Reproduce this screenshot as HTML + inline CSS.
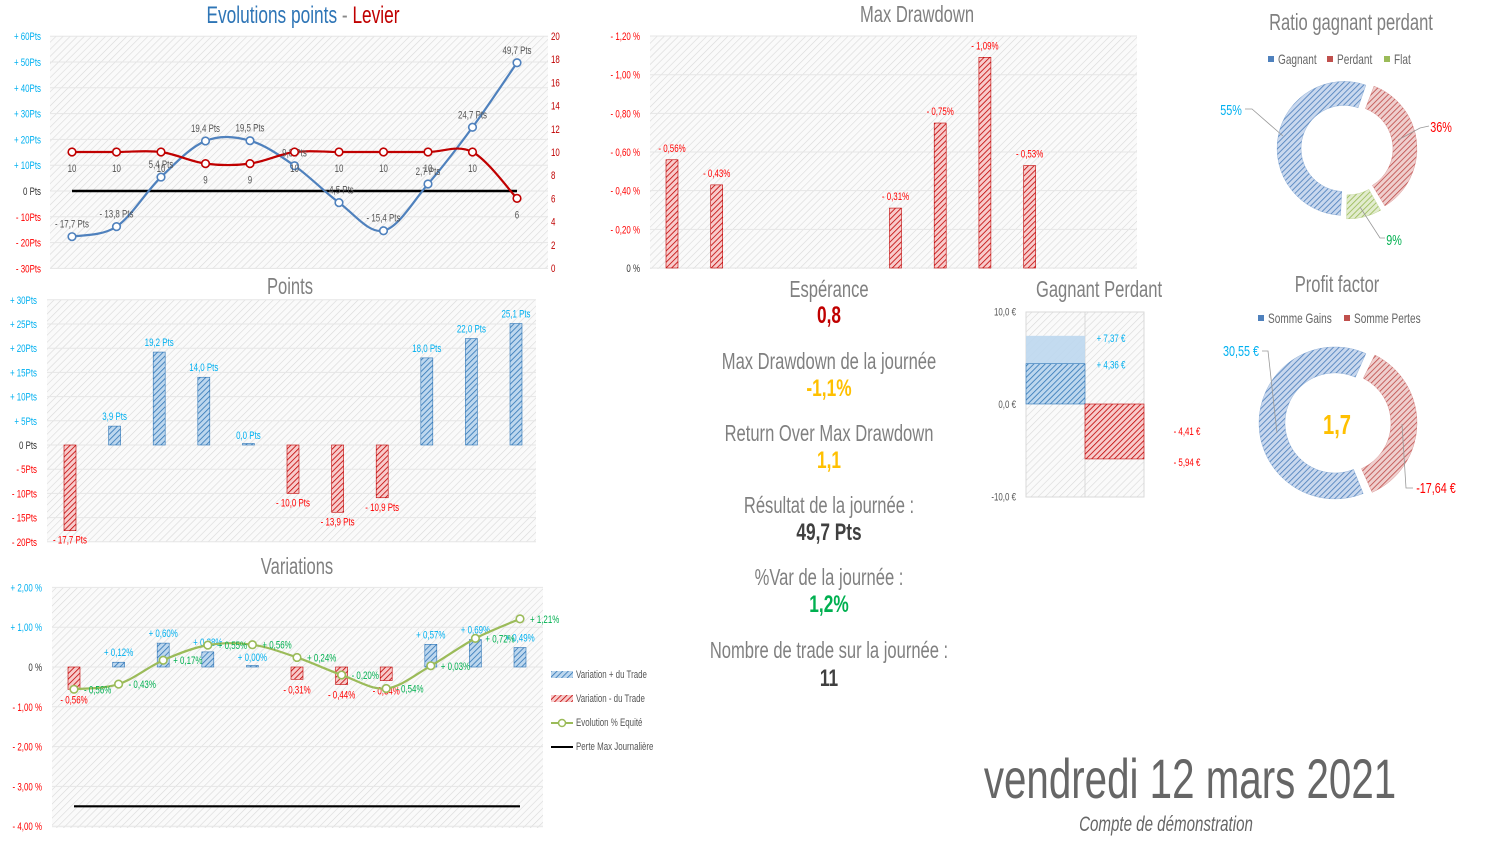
<!DOCTYPE html>
<html><head><meta charset="utf-8">
<style>
html,body{margin:0;padding:0;background:#fff;}
svg{display:block;font-family:"Liberation Sans Narrow","Liberation Sans",sans-serif;}
</style></head>
<body>
<svg id="s" width="1493" height="853" viewBox="0 0 1493 853">
<defs>
<pattern id="bg" width="5" height="5" patternUnits="userSpaceOnUse" patternTransform="rotate(45)"><rect width="5" height="5" fill="#fafafa"/><line x1="0" y1="0" x2="0" y2="5" stroke="#d9d9d9" stroke-width="1.2"/></pattern>
<pattern id="hb" width="4" height="4" patternUnits="userSpaceOnUse" patternTransform="rotate(45)"><rect width="4" height="4" fill="#bdd7ee"/><line x1="0" y1="0" x2="0" y2="4" stroke="#2e75b6" stroke-width="1.6"/></pattern>
<pattern id="hr" width="4" height="4" patternUnits="userSpaceOnUse" patternTransform="rotate(45)"><rect width="4" height="4" fill="#f8cbcb"/><line x1="0" y1="0" x2="0" y2="4" stroke="#c00000" stroke-width="1.6"/></pattern>
<pattern id="hb2" width="4" height="4" patternUnits="userSpaceOnUse" patternTransform="rotate(45)"><rect width="4" height="4" fill="#c9d8ee"/><line x1="0" y1="0" x2="0" y2="4" stroke="#4f81bd" stroke-width="1.7"/></pattern>
<pattern id="hr2" width="4" height="4" patternUnits="userSpaceOnUse" patternTransform="rotate(45)"><rect width="4" height="4" fill="#efcfce"/><line x1="0" y1="0" x2="0" y2="4" stroke="#c0504d" stroke-width="1.7"/></pattern>
<pattern id="hg2" width="4" height="4" patternUnits="userSpaceOnUse" patternTransform="rotate(45)"><rect width="4" height="4" fill="#e2ecce"/><line x1="0" y1="0" x2="0" y2="4" stroke="#9bbb59" stroke-width="1.7"/></pattern>
</defs>
<g id="root"></g>
</svg>
<script>
// ---- data ----
const evoCats = ["T1","T2","T3","T4","T5","T6","T7","T8","T9","T10","T11"];
const evoPoints = [-17.7,-13.8,5.4,19.4,19.5,9.8,-4.5,-15.4,2.7,24.7,49.7];
const evoLevier = [10,10,10,9,9,10,10,10,10,10,6];
const evoLeftTicks = [60,50,40,30,20,10,0,-10,-20,-30];
const evoRightTicks = [20,18,16,14,12,10,8,6,4,2,0];
const ptsValues = [-17.7,3.9,19.2,14.0,0.0,-10.0,-13.9,-10.9,18.0,22.0,25.1];
const ptsTicks = [30,25,20,15,10,5,0,-5,-10,-15,-20];
const varTrade = [-0.56,0.12,0.60,0.38,0.00,-0.31,-0.44,-0.34,0.57,0.69,0.49];
const varEquity = [-0.56,-0.43,0.17,0.55,0.56,0.24,-0.20,-0.54,0.03,0.72,1.21];
const varPerteMax = -3.5;
const varTicks = [2,1,0,-1,-2,-3,-4];
const ddValues = [0.56,0.43,0,0,0,0.31,0.75,1.09,0.53,0,0];
const ddTicks = [1.2,1.0,0.8,0.6,0.4,0.2,0];
const gpGagnant = [7.37,4.36];
const gpPerdant = [-4.41,-5.94];
const gpTicks = [10,0,-10];
const ratioLabels = ["Gagnant","Perdant","Flat"];
const ratioValues = [55,36,9];
const pfLabels = ["Somme Gains","Somme Pertes"];
const pfValues = [30.55,-17.64];

const NS="http://www.w3.org/2000/svg";
const root=document.getElementById('root');
const SX=0.72;
function mk(tag,at,parent){const e=document.createElementNS(NS,tag);for(const k in at)e.setAttribute(k,at[k]);(parent||root).appendChild(e);return e;}
function tx(x,y,s,size,fill,anchor,extra,parent){const e=mk('text',Object.assign({x:0,y:0,transform:'translate('+x+','+y+') scale('+SX+',1)','font-size':size,fill:fill,'text-anchor':anchor||'middle'},extra||{}),parent);e.textContent=s;return e;}
const fr=v=>Math.abs(v).toFixed(1).replace('.',',');
const fr2=v=>Math.abs(v).toFixed(2).replace('.',',');
function smooth(pts){let d='M'+pts[0][0]+','+pts[0][1];for(let i=0;i<pts.length-1;i++){const p0=pts[i-1]||pts[i],p1=pts[i],p2=pts[i+1],p3=pts[i+2]||p2;const c1=[p1[0]+(p2[0]-p0[0])/6,p1[1]+(p2[1]-p0[1])/6],c2=[p2[0]-(p3[0]-p1[0])/6,p2[1]-(p3[1]-p1[1])/6];d+=' C'+c1+' '+c2+' '+p2;}return d;}
function plotBg(x,y,w,h,name){const r=mk('rect',{x:x,y:y,width:w,height:h,fill:'url(#bg)'});}
function grid(x1,x2,y){const l=mk('line',{x1:x1,x2:x2,y1:y,y2:y,stroke:'#e6e6e6','stroke-width':1});}

// ===== Chart 1 =====
{
const x=i=>72+i*44.5, yL=v=>191-v*2.58, yR=v=>268-v*11.6;
plotBg(50,36,498,233,'evolution-plot-area');
let t=mk('text',{x:0,y:0,transform:'translate(303,23) scale('+SX+',1)','font-size':24,'text-anchor':'middle'});

t.innerHTML='<tspan fill="#2e75b6">Evolutions points</tspan><tspan fill="#888"> - </tspan><tspan fill="#c00000">Levier</tspan>';
evoLeftTicks.forEach(v=>{grid(50,548,yL(v));const e=tx(41,yL(v)+4,v===0?'0 Pts':(v>0?'+ ':'- ')+Math.abs(v)+'Pts',11,v>0?'#00b0f0':(v<0?'#ff0000':'#333'),'end');});
evoRightTicks.forEach(v=>{const e=tx(551,yR(v)+4,String(v),11,'#c00000','start');});
const zl=mk('line',{x1:x(0),x2:x(10),y1:yL(0),y2:yL(0),stroke:'#000','stroke-width':2.5});

const bl=mk('path',{d:smooth(evoPoints.map((v,i)=>[x(i),yL(v)])),fill:'none',stroke:'#4f81bd','stroke-width':2.2});

const rl=mk('path',{d:smooth(evoLevier.map((v,i)=>[x(i),yR(v)])),fill:'none',stroke:'#c00000','stroke-width':2.2});

evoPoints.forEach((v,i)=>{
 const c=mk('circle',{cx:x(i),cy:yL(v),r:3.8,fill:'#fff',stroke:'#4f81bd','stroke-width':1.6});
 
 const e=tx(x(i),yL(v)-9,(v<0?'- ':'')+fr(v)+' Pts',11,'#555');
 
});
evoLevier.forEach((v,i)=>{
 const c=mk('circle',{cx:x(i),cy:yR(v),r:3.8,fill:'#fff',stroke:'#c00000','stroke-width':1.6});
 
 const e=tx(x(i),yR(v)+20,String(v),11,'#555');
 
});
}

// ===== Chart 2: Points =====
{
const x=i=>70+i*44.6, y=v=>445-v*4.84;
plotBg(47,300,489,242,'points-plot-area');
const t=tx(290,294,'Points',23,'#808080');
ptsTicks.forEach(v=>{grid(47,536,y(v));const e=tx(37,y(v)+4,v===0?'0 Pts':(v>0?'+ ':'- ')+Math.abs(v)+'Pts',11,v>0?'#00b0f0':(v<0?'#ff0000':'#333'),'end');});
ptsValues.forEach((v,i)=>{
 const h=Math.max(Math.abs(y(v)-y(0)),1.5);
 const b=mk('rect',{x:x(i)-6,y:v>=0?y(0)-h:y(0),width:12,height:h,fill:v>=0?'url(#hb)':'url(#hr)',stroke:v>=0?'#2e75b6':'#c00000','stroke-width':0.6});
 
 const e=tx(x(i),v>=0?y(v)-6:y(v)+13,(v<0?'- ':'')+fr(v)+' Pts',11,v>=0?'#00b0f0':'#ff0000');
 
});
}

// ===== Chart 3: Variations =====
{
const x=i=>74+i*44.6, y=v=>667-v*39.8;
plotBg(52,588,491,240,'variations-plot-area');
const t=tx(297,574,'Variations',23,'#808080');
varTicks.forEach(v=>{grid(52,543,y(v));const e=tx(42,y(v)+4,v===0?'0 %':(v>0?'+ ':'- ')+Math.abs(v).toFixed(2).replace('.',',')+' %',11,v>0?'#00b0f0':(v<0?'#ff0000':'#333'),'end');});
varTrade.forEach((v,i)=>{
 const h=Math.max(Math.abs(y(v)-y(0)),1.5);
 const b=mk('rect',{x:x(i)-6,y:v>=0?y(0)-h:y(0),width:12,height:h,fill:v>=0?'url(#hb)':'url(#hr)',stroke:v>=0?'#2e75b6':'#c00000','stroke-width':0.6});
 
 const e=tx(x(i),v>=0?y(v)-6:y(v)+14,(v<0?'- ':'+ ')+fr2(v)+'%',11,v>=0?'#00b0f0':'#ff0000');
 
});
const pl=mk('line',{x1:x(0),x2:x(10),y1:y(varPerteMax),y2:y(varPerteMax),stroke:'#000','stroke-width':2.2});

const el=mk('path',{d:smooth(varEquity.map((v,i)=>[x(i),y(v)])),fill:'none',stroke:'#9bbb59','stroke-width':2.2});

varEquity.forEach((v,i)=>{
 const c=mk('circle',{cx:x(i),cy:y(v),r:3.8,fill:'#fff',stroke:'#9bbb59','stroke-width':1.6});
 
 const e=tx(x(i)+10,y(v)+4,(v<0?'- ':'+ ')+fr2(v)+'%',11,'#00b050','start');
 
});
const leg=[['Variation + du Trade','bar','url(#hb)'],['Variation - du Trade','bar','url(#hr)'],['Evolution % Equité','line','#9bbb59'],['Perte Max Journalière','line','#000']];
leg.forEach((l,i)=>{
 const yy=675+i*24;
 const g=mk('g',{});
 if(l[1]==='bar')mk('rect',{x:551,y:yy-4,width:22,height:7,fill:l[2]},g);
 else{mk('line',{x1:551,x2:573,y1:yy,y2:yy,stroke:l[2],'stroke-width':2},g);if(i===2)mk('circle',{cx:562,cy:yy,r:3.5,fill:'#fff',stroke:l[2],'stroke-width':1.5},g);}
 tx(576,yy+3,l[0],11,'#555','start',{},g);
});
}

// ===== Max Drawdown =====
{
const x=i=>672+i*44.7, y=v=>268-v*193.3;
plotBg(650,36,487,233,'drawdown-plot-area');
const t=tx(917,22,'Max Drawdown',23,'#808080');
ddTicks.forEach(v=>{grid(650,1137,y(v));const e=tx(640,y(v)+4,v===0?'0 %':'- '+v.toFixed(2).replace('.',',')+' %',11,v===0?'#333':'#ff0000','end');});
ddValues.forEach((v,i)=>{
 if(v<=0)return;
 const b=mk('rect',{x:x(i)-6,y:y(v),width:12,height:y(0)-y(v),fill:'url(#hr)',stroke:'#c00000','stroke-width':0.6});
 
 const e=tx(x(i),y(v)-8,'- '+fr2(v)+'%',11,'#ff0000');
 
});
}

// ===== KPI stats =====
{
const stats=[['Espérance','0,8','#c00000',297,323],['Max Drawdown de la journée','-1,1%','#ffc000',369,396],['Return Over Max Drawdown','1,1','#ffc000',441,468],['Résultat de la journée :','49,7 Pts','#404040',513,540],['%Var de la journée :','1,2%','#00b050',585,612],['Nombre de trade sur la journée :','11','#404040',658,686]];
stats.forEach(s=>{
 const a=tx(829,s[3],s[0],23,'#808080');
 const b=tx(829,s[4],s[1],24,s[2],'middle',{'font-weight':'bold'});
});
}

// ===== Gagnant Perdant =====
{
const y=v=>404-v*9.25;
plotBg(1026,312,118,185,'gagnant-perdant-plot-area');
const fr0=mk('rect',{x:1026,y:312,width:118,height:185,fill:'none',stroke:'#d9d9d9'});

const dv=mk('line',{x1:1085,x2:1085,y1:312,y2:497,stroke:'#d9d9d9'});
const t=tx(1099,297,'Gagnant Perdant',23,'#808080');
gpTicks.forEach(v=>{const e=tx(1016,y(v)+4,v.toFixed(1).replace('.',',')+' €',11,'#555','end');});
const b1=mk('rect',{x:1026,y:y(gpGagnant[0]),width:59,height:y(0)-y(gpGagnant[0]),fill:'#bdd7ee',opacity:0.9});

const b2=mk('rect',{x:1026,y:y(gpGagnant[1]),width:59,height:y(0)-y(gpGagnant[1]),fill:'url(#hb)',stroke:'#2e75b6','stroke-width':0.6});

const b3=mk('rect',{x:1085,y:y(0),width:59,height:y(gpPerdant[1])-y(0),fill:'url(#hr)',stroke:'#c00000','stroke-width':0.6});

const l1=tx(1111,y(gpGagnant[0])+6,'+ '+fr2(gpGagnant[0])+' €',11,'#00b0f0');
const l2=tx(1111,y(gpGagnant[1])+5,'+ '+fr2(gpGagnant[1])+' €',11,'#00b0f0');
const l3=tx(1187,y(gpPerdant[0])-10,'- '+fr2(gpPerdant[0])+' €',11,'#ff0000');
const l4=tx(1187,y(gpPerdant[1])+7,'- '+fr2(gpPerdant[1])+' €',11,'#ff0000');
}

// ===== Donuts =====
function arcPath(cx,cy,r0,r1,a0,a1){const p=(r,a)=>[cx+r*Math.sin(a*Math.PI/180),cy-r*Math.cos(a*Math.PI/180)];const lg=(a1-a0)>180?1:0;const A=p(r1,a0),B=p(r1,a1),C=p(r0,a1),D=p(r0,a0);return 'M'+A+' A'+r1+','+r1+' 0 '+lg+' 1 '+B+' L'+C+' A'+r0+','+r0+' 0 '+lg+' 0 '+D+'Z';}
{
const cx=1347,cy=149,fills=['url(#hb2)','url(#hr2)','url(#hg2)'],sw=['#4f81bd','#c0504d','#9bbb59'];
const t=tx(1351,30,'Ratio gagnant perdant',23,'#808080');
const tot=ratioValues.reduce((a,b)=>a+b,0);let a=182;
ratioValues.forEach((v,i)=>{const da=v/tot*360;const m=a+da/2,off=3;
 const p=mk('path',{d:arcPath(cx+off*Math.sin(m*Math.PI/180),cy-off*Math.cos(m*Math.PI/180),43,67,a+1,a+da-1),fill:fills[i],stroke:sw[i],'stroke-width':0.5,'stroke-opacity':0.5});
 a+=da;});
const lx=[1268,1327,1384];
ratioLabels.forEach((l,i)=>{const g=mk('g',{});mk('rect',{x:lx[i],y:56,width:6,height:6,fill:sw[i]},g);tx(lx[i]+10,64,l,14,'#666','start',{},g);});
const d1=tx(1231,115,ratioValues[0]+'%',15,'#00b0f0');
const d2=tx(1441,132,ratioValues[1]+'%',15,'#ff0000');
const d3=tx(1394,245,ratioValues[2]+'%',15,'#00b050');
const ll=mk('path',{d:'M1245,109 L1252,109 L1283,136 M1429,126 L1420,128 L1398,140 M1385,238 L1380,238 L1360,207',stroke:'#999',fill:'none','stroke-width':0.8});

}
{
const cx=1338,cy=423,fills=['url(#hb2)','url(#hr2)'],sw=['#4f81bd','#c0504d'];
const t=tx(1337,292,'Profit factor',23,'#808080');
const tot=pfValues.reduce((a,b)=>a+Math.abs(b),0);let a=157;
pfValues.forEach((v,i)=>{const da=Math.abs(v)/tot*360;const m=a+da/2,off=3;
 const p=mk('path',{d:arcPath(cx+off*Math.sin(m*Math.PI/180),cy-off*Math.cos(m*Math.PI/180),50,76,a+1.2,a+da-1.2),fill:fills[i],stroke:sw[i],'stroke-width':0.5,'stroke-opacity':0.5});
 a+=da;});
const lx=[1258,1344];
pfLabels.forEach((l,i)=>{const g=mk('g',{});mk('rect',{x:lx[i],y:315,width:6,height:6,fill:sw[i]},g);tx(lx[i]+10,323,l,14,'#666','start',{},g);});
const c=tx(1337,434,(pfValues[0]/Math.abs(pfValues[1])).toFixed(1).replace('.',','),28,'#ffc000','middle',{'font-weight':'bold'});

const d1=tx(1241,356,fr2(pfValues[0])+' €',15,'#00b0f0');
const d2=tx(1436,493,'-'+fr2(pfValues[1])+' €',15,'#ff0000');
const ll=mk('path',{d:'M1262,351 L1268,351 L1277,433 M1413,488 L1406,488 L1402,424',stroke:'#999',fill:'none','stroke-width':0.8});

}

// ===== Date / account =====
{
const d=tx(1190,798,'vendredi 12 mars 2021',56,'#666');
const a=tx(1166,831,'Compte de démonstration',21,'#666','middle',{'font-style':'italic'});
}
</script>
</body></html>
